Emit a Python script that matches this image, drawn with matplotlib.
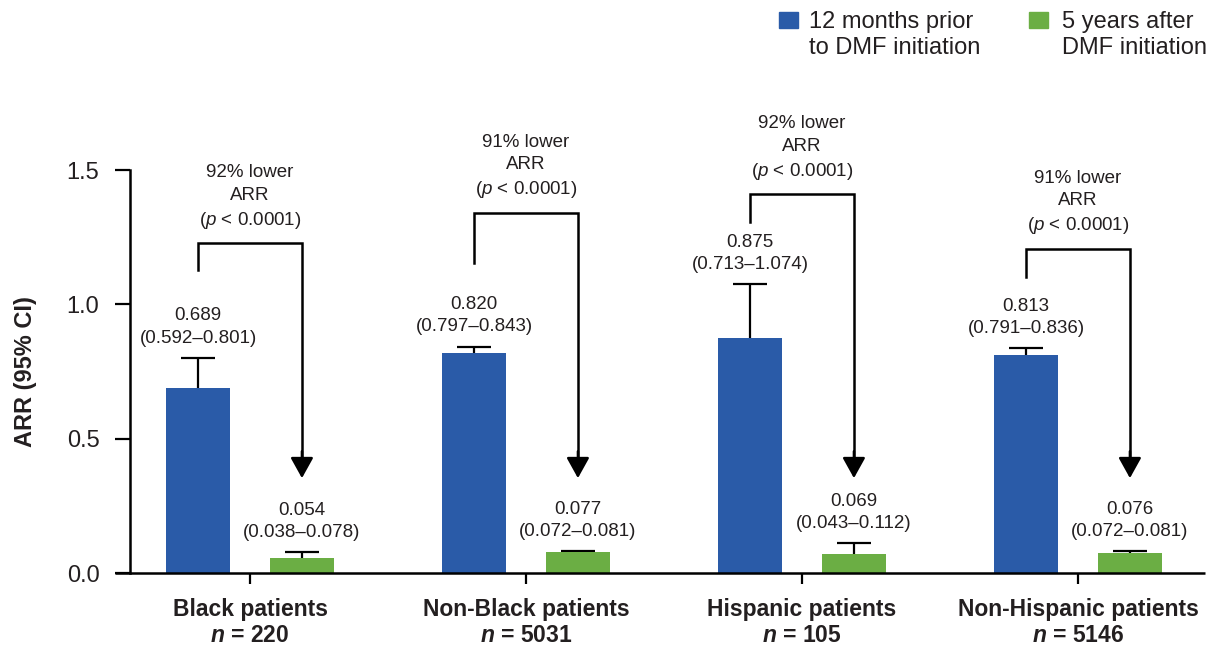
import matplotlib
matplotlib.use("Agg")
import matplotlib.pyplot as plt
from matplotlib.patches import Rectangle
import numpy as np

plt.rcParams["font.family"] = ["Liberation Sans", "DejaVu Sans"]
plt.rcParams["mathtext.fontset"] = "custom"
plt.rcParams["mathtext.rm"] = "Liberation Sans"
plt.rcParams["mathtext.it"] = "Liberation Sans:italic"
plt.rcParams["mathtext.bf"] = "Liberation Sans:bold"
plt.rcParams["mathtext.bfit"] = "Liberation Sans:bold:italic"

# ARR per subgroup, 12 months before vs 5 years after DMF start
groups = ["Black patients", "Non-Black patients", "Hispanic patients", "Non-Hispanic patients"]
n_patients = [220, 5031, 105, 5146]

arr_before = [0.689, 0.820, 0.875, 0.813]
ci_before_lo = [0.592, 0.797, 0.713, 0.791]
ci_before_hi = [0.801, 0.843, 1.074, 0.836]

arr_after = [0.054, 0.077, 0.069, 0.076]
ci_after_lo = [0.038, 0.072, 0.043, 0.072]
ci_after_hi = [0.078, 0.081, 0.112, 0.081]

pct_lower = [92, 91, 92, 91]

# bracket layout (in ARR units)
bracket_top = [1.228, 1.340, 1.410, 1.206]
bracket_leg = [1.128, 1.154, 1.306, 1.102]
arrow_tip = 0.353

BLUE = "#2A5BA8"
GREEN = "#6BAE44"
TXT = "#231F20"

fig = plt.figure(figsize=(12.12, 6.46), dpi=100)
ax = fig.add_axes([130 / 1212, 73 / 646, 1075 / 1212, 403 / 646])

x = np.arange(len(groups))
off = 0.188
width = 0.232
xb = x - off
xg = x + off

ax.bar(xb, arr_before, width, color=BLUE, zorder=2)
ax.bar(xg, arr_after, width, color=GREEN, zorder=2)

# upper half of the 95% CI only
cap = 0.062
for xs, vals, his in [(xb, arr_before, ci_before_hi), (xg, arr_after, ci_after_hi)]:
    ax.vlines(xs, vals, his, color="black", lw=1.6, zorder=1)
    ax.hlines(his, xs - cap, xs + cap, color="black", lw=1.6, zorder=1)

for xs, vals, los, his in [(xb, arr_before, ci_before_lo, ci_before_hi),
                           (xg, arr_after, ci_after_lo, ci_after_hi)]:
    for xi, v, lo, hi in zip(xs, vals, los, his):
        ax.annotate(f"{v:.3f}\n({lo:.3f}\u2013{hi:.3f})", xy=(xi, hi),
                    xytext=(0, 8), textcoords="offset points",
                    ha="center", va="bottom", fontsize=13.5, linespacing=1.4,
                    color=TXT)

# brackets pointing from the pre-DMF bar down to the post-DMF bar
for i in range(len(groups)):
    ax.plot([xb[i], xb[i], xg[i], xg[i]],
            [bracket_leg[i], bracket_top[i], bracket_top[i], arrow_tip + 0.05],
            color="black", lw=1.8, solid_joinstyle="miter", zorder=3)
    ax.annotate("", xy=(xg[i], arrow_tip), xytext=(xg[i], arrow_tip + 0.1),
                arrowprops=dict(arrowstyle="-|>,head_length=0.9,head_width=0.5",
                                mutation_scale=14, color="black", lw=1.8,
                                shrinkA=0, shrinkB=0))
    ax.annotate(f"{pct_lower[i]}% lower\nARR\n($p$ < 0.0001)",
                xy=(x[i], bracket_top[i]), xytext=(0, 9),
                textcoords="offset points", ha="center", va="bottom",
                fontsize=13.5, linespacing=1.4, color=TXT)

ax.set_xlim(-0.435, 3.46)
ax.set_ylim(0, 1.5)
ax.set_yticks([0.0, 0.5, 1.0, 1.5])
ax.set_yticklabels(["0.0", "0.5", "1.0", "1.5"])
ax.set_xticks(x)
ax.set_xticklabels([f"{g}\n$\\mathbfit{{n}}$ = {n}" for g, n in zip(groups, n_patients)],
                   fontweight="bold", fontsize=16.5, linespacing=1.15, color=TXT)

ax.set_ylabel("ARR (95% CI)", fontsize=17, fontweight="bold", color=TXT)
ax.yaxis.set_label_coords(-0.0865, 0.5)

for side in ["top", "right", "bottom"]:
    ax.spines[side].set_visible(False)
ax.spines["left"].set_linewidth(1.8)
ax.plot([-15 / 1075, 1], [0, 0], transform=ax.transAxes, clip_on=False,
        color="black", lw=1.8, solid_capstyle="butt")

ax.tick_params(axis="y", length=11, width=1.6, pad=11, labelsize=17, labelcolor=TXT)
ax.tick_params(axis="x", length=8, width=1.6, pad=10)

# legend
fig.add_artist(Rectangle((779 / 1212, 1 - 28 / 646), 19 / 1212, 16 / 646,
                         transform=fig.transFigure, color=BLUE))
fig.text(809 / 1212, 1 - 11 / 646, "12 months prior\nto DMF initiation",
         ha="left", va="top", fontsize=17, linespacing=1.25, color=TXT)
fig.add_artist(Rectangle((1029 / 1212, 1 - 28 / 646), 19 / 1212, 16 / 646,
                         transform=fig.transFigure, color=GREEN))
fig.text(1062 / 1212, 1 - 11 / 646, "5 years after\nDMF initiation",
         ha="left", va="top", fontsize=17, linespacing=1.25, color=TXT)

fig.savefig("out.png", dpi=100)
